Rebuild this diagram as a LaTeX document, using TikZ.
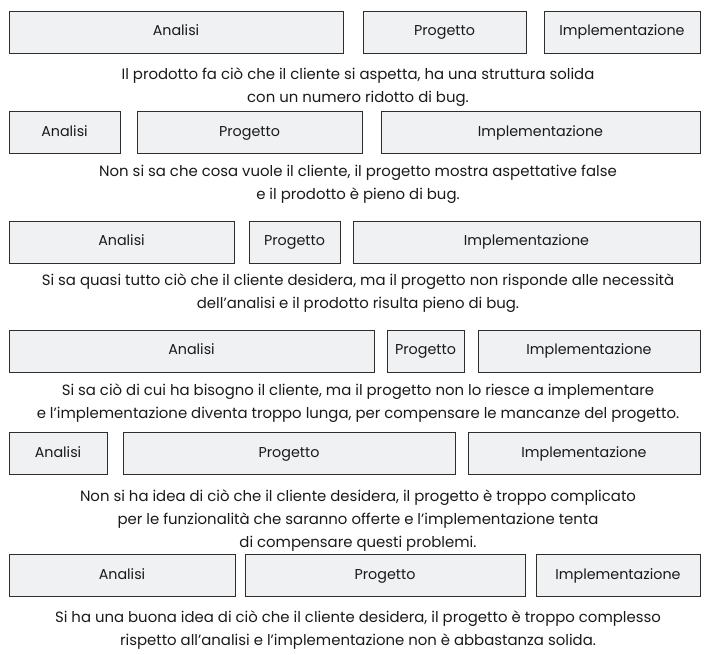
\documentclass[tikz,border=0pt]{standalone}
\usepackage{fontspec}
\setmainfont{Poppins}
\definecolor{boxfill}{HTML}{F0F1F3}
\definecolor{boxline}{HTML}{2E2E2E}
\definecolor{txt}{HTML}{1A1A1A}
\tikzset{
  phase/.style={draw=boxline, line width=1pt, fill=boxfill, inner sep=0pt,
    minimum height=42pt, text=txt, text height=10.5pt, text depth=3.5pt,
    font=\fontsize{14.3}{16}\selectfont},
  caption/.style={align=center, text=txt, inner sep=0pt,
    font=\fontsize{14.9}{22.8}\selectfont}
}
\begin{document}
\begin{tikzpicture}[x=1pt,y=-1pt]
\useasboundingbox[fill=white] (0,0) rectangle (707,654);
% row 1
\node[phase, minimum width=334pt] (a1) at (176,32) {Analisi};
\node[phase, minimum width=163pt] (p1) at (444.5,32) {Progetto};
\node[phase, minimum width=156pt] (i1) at (622,32) {Implementazione};
\node[caption] (c1) at (358,87.5) {Il prodotto fa ciò che il cliente si aspetta, ha una struttura solida\\con un numero ridotto di bug.};
% row 2
\node[phase, minimum width=111pt] (a2) at (64.5,132.5) {Analisi};
\node[phase, minimum width=225pt] (p2) at (249.5,132.5) {Progetto};
\node[phase, minimum width=319pt] (i2) at (540.5,132.5) {Implementazione};
\node[caption] (c2) at (358,184.5) {Non si sa che cosa vuole il cliente, il progetto mostra aspettative false\\e il prodotto è pieno di bug.};
% row 3
\node[phase, minimum width=225pt] (a3) at (121.5,242) {Analisi};
\node[phase, minimum width=91pt] (p3) at (294.5,242) {Progetto};
\node[phase, minimum width=347pt] (i3) at (526.5,242) {Implementazione};
\node[caption] (c3) at (358,293.5) {Si sa quasi tutto ciò che il cliente desidera, ma il progetto non risponde alle necessità\\dell’analisi e il prodotto risulta pieno di bug.};
% row 4
\node[phase, minimum width=365pt] (a4) at (191.5,351) {Analisi};
\node[phase, minimum width=77pt] (p4) at (425.5,351) {Progetto};
\node[phase, minimum width=222pt] (i4) at (589,351) {Implementazione};
\node[caption] (c4) at (358,403.5) {Si sa ciò di cui ha bisogno il cliente, ma il progetto non lo riesce a implementare\\e l’implementazione diventa troppo lunga, per compensare le mancanze del progetto.};
% row 5
\node[phase, minimum width=98pt] (a5) at (58,453.5) {Analisi};
\node[phase, minimum width=332pt] (p5) at (289,453.5) {Progetto};
\node[phase, minimum width=232pt] (i5) at (584,453.5) {Implementazione};
\node[caption] (c5) at (358,520.5) {Non si ha idea di ciò che il cliente desidera, il progetto è troppo complicato\\per le funzionalità che saranno offerte e l’implementazione tenta\\di compensare questi problemi.};
% row 6
\node[phase, minimum width=226pt] (a6) at (122,575.5) {Analisi};
\node[phase, minimum width=280pt] (p6) at (385,575.5) {Progetto};
\node[phase, minimum width=164pt] (i6) at (618,575.5) {Implementazione};
\node[caption] (c6) at (358,630) {Si ha una buona idea di ciò che il cliente desidera, il progetto è troppo complesso\\rispetto all’analisi e l’implementazione non è abbastanza solida.};
\end{tikzpicture}
\end{document}
